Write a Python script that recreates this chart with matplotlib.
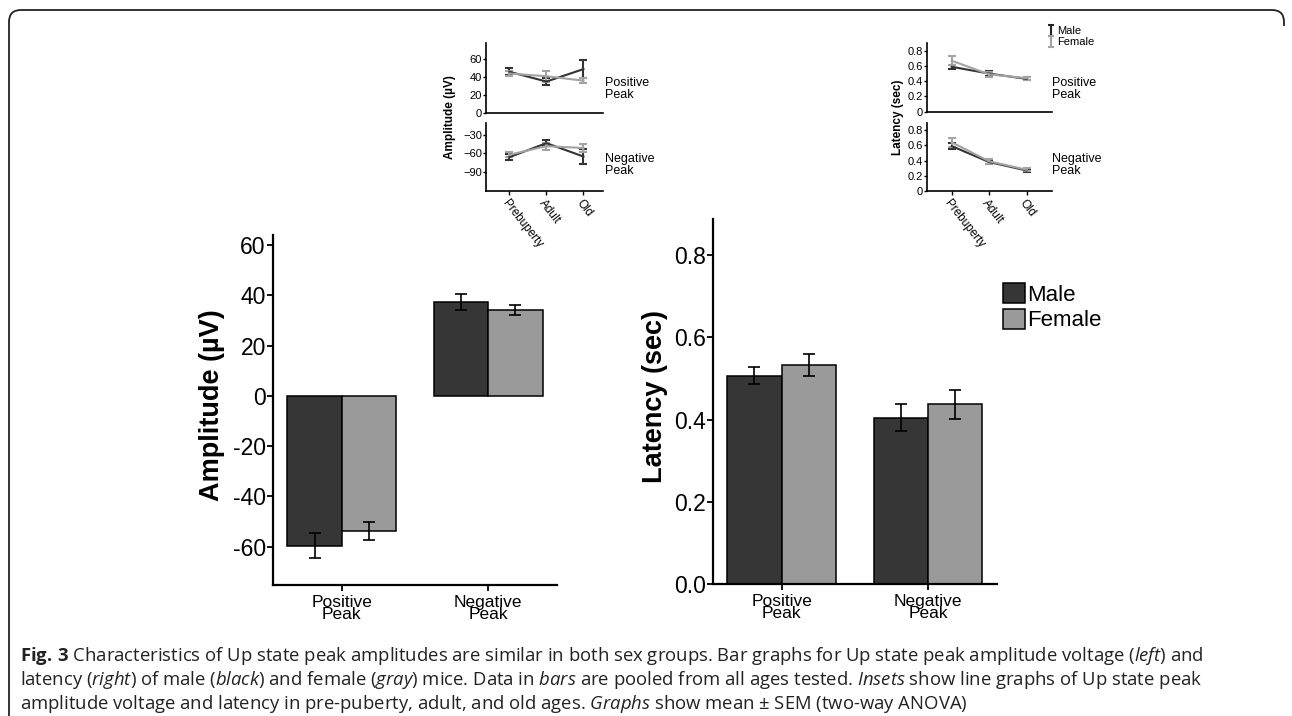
import numpy as np
import matplotlib
matplotlib.use("Agg")
import matplotlib.pyplot as plt
from matplotlib.path import Path
from matplotlib.patches import PathPatch, Patch

# --- DATA ---
peaks = ["Positive\nPeak", "Negative\nPeak"]
ages = ["Prebuperty", "Adult", "Old"]

# pooled bars: mean and SEM
amp_male = [-59.6, 37.4]
amp_male_sem = [4.8, 3.2]
amp_female = [-53.8, 34.2]
amp_female_sem = [3.5, 2.0]

lat_male = [0.507, 0.405]
lat_male_sem = [0.021, 0.033]
lat_female = [0.533, 0.437]
lat_female_sem = [0.026, 0.035]

# insets, by age
amp_pos_male = [46, 35, 49]
amp_pos_male_sem = [4, 4, 10]
amp_pos_female = [44, 41, 36]
amp_pos_female_sem = [3, 6, 2.5]
amp_neg_male = [-66, -43, -65]
amp_neg_male_sem = [5, 5, 12]
amp_neg_female = [-62, -48, -51]
amp_neg_female_sem = [4, 5.5, 7]

lat_pos_male = [0.59, 0.50, 0.43]
lat_pos_male_sem = [0.03, 0.03, 0.02]
lat_pos_female = [0.67, 0.49, 0.44]
lat_pos_female_sem = [0.06, 0.03, 0.02]
lat_neg_male = [0.59, 0.38, 0.27]
lat_neg_male_sem = [0.04, 0.03, 0.02]
lat_neg_female = [0.64, 0.39, 0.28]
lat_neg_female_sem = [0.06, 0.03, 0.02]

# --- STYLE ---
W, H = 1292, 716
MALE = "#363636"
FEMALE = "#9a9a9a"
plt.rcParams["font.family"] = ["Liberation Sans", "DejaVu Sans"]
plt.rcParams["mathtext.fontset"] = "custom"
plt.rcParams["mathtext.rm"] = "Open Sans"
plt.rcParams["mathtext.it"] = "Open Sans:italic"
plt.rcParams["mathtext.bf"] = "Open Sans:bold"

fig = plt.figure(figsize=(W / 100, H / 100), dpi=100)


def px_rect(x0, y0, x1, y1):
    # pixel box (top-left origin) -> figure fraction rect
    return [x0 / W, 1 - y1 / H, (x1 - x0) / W, (y1 - y0) / H]


def bar_panel(box, male, msem, female, fsem, ylim, yticks, yfmt, ylabel, lab_x):
    ax = fig.add_axes(px_rect(*box))
    x = np.arange(len(peaks))
    w = 0.37
    ekw = dict(elinewidth=1.2, capthick=1.2, ecolor="black")
    ax.bar(x - w / 2, male, w, yerr=msem, color=MALE, edgecolor="black",
           linewidth=1.1, capsize=4.6, error_kw=ekw)
    ax.bar(x + w / 2, female, w, yerr=fsem, color=FEMALE, edgecolor="black",
           linewidth=1.1, capsize=4.6, error_kw=ekw)
    ax.set_xlim(-0.47, 1.468)
    ax.set_ylim(*ylim)
    ax.set_yticks(yticks)
    ax.set_yticklabels([yfmt.format(v) for v in yticks])
    ax.set_xticks(x)
    ax.set_xticklabels(peaks, fontsize=12.5, linespacing=0.78)
    for s in ["top", "right"]:
        ax.spines[s].set_visible(False)
    for s in ["left", "bottom"]:
        ax.spines[s].set_linewidth(1.6)
    ax.tick_params(axis="y", labelsize=16.5, length=4, width=1.3, pad=1)
    ax.tick_params(axis="x", length=4, width=1.3, pad=3)
    ax.set_ylabel(ylabel, fontsize=19.5, fontweight="bold")
    ax.yaxis.set_label_coords(lab_x, 0.515)
    return ax


def inset_panel(box, xlim, male, msem, female, fsem, ylim, yticks, show_x):
    ax = fig.add_axes(px_rect(*box))
    x = np.arange(len(ages))
    ax.errorbar(x, male, yerr=msem, color="#333333", lw=1.5, capsize=2.8, capthick=1.5)
    ax.errorbar(x, female, yerr=fsem, color="#a3a3a3", lw=1.5, capsize=2.8, capthick=1.5)
    ax.set_xlim(*xlim)
    ax.set_ylim(*ylim)
    ax.set_yticks(yticks)
    for s in ["top", "right"]:
        ax.spines[s].set_visible(False)
    for s in ["left", "bottom"]:
        ax.spines[s].set_linewidth(1.2)
    ax.tick_params(axis="y", labelsize=8, length=2, width=1, pad=0.5)
    ax.set_xticks(x)
    if show_x:
        ax.set_xticklabels(ages, fontsize=8.5, rotation=-52, ha="left", va="top",
                           rotation_mode="anchor")
        ax.tick_params(axis="x", length=3, width=1, pad=2)
    else:
        ax.set_xticklabels([])
        ax.tick_params(axis="x", length=0)
    return ax


# --- main bar graphs ---
bar_panel((272.7, 235, 557, 585), amp_male, amp_male_sem, amp_female, amp_female_sem,
          (-75.3, 64), [-60, -40, -20, 0, 20, 40, 60], "{:d}", "Amplitude (µV)", -0.167)
bar_panel((712.7, 219.3, 996.7, 584.3), lat_male, lat_male_sem, lat_female, lat_female_sem,
          (0, 0.887), [0.0, 0.2, 0.4, 0.6, 0.8], "{:.1f}", "Latency (sec)", -0.158)

fig.legend(handles=[Patch(facecolor=MALE, edgecolor="black", linewidth=1.1, label="Male"),
                    Patch(facecolor=FEMALE, edgecolor="black", linewidth=1.1, label="Female")],
           loc="upper left", bbox_to_anchor=(1003 / W, 1 - 283 / H), frameon=False,
           fontsize=16, handlelength=1.0, handleheight=1.0, handletextpad=0.1,
           labelspacing=0.15, borderpad=0, borderaxespad=0)

# --- insets ---
inset_panel((485.7, 43.3, 602.7, 112.7), (-0.64, 2.52), amp_pos_male, amp_pos_male_sem,
            amp_pos_female, amp_pos_female_sem, (0, 78), [0, 20, 40, 60], False)
inset_panel((485.7, 123.3, 602.7, 191), (-0.64, 2.52), amp_neg_male, amp_neg_male_sem,
            amp_neg_female, amp_neg_female_sem, (-121.5, -10.5), [-90, -60, -30], True)
ax_rt = inset_panel((926.7, 43.3, 1051.7, 111.5), (-0.67, 2.67), lat_pos_male, lat_pos_male_sem,
                    lat_pos_female, lat_pos_female_sem, (0, 0.9), [0, 0.2, 0.4, 0.6, 0.8], False)
ax_rb = inset_panel((926.7, 123.3, 1051.7, 191), (-0.67, 2.67), lat_neg_male, lat_neg_male_sem,
                    lat_neg_female, lat_neg_female_sem, (0, 0.89), [0, 0.2, 0.4, 0.6, 0.8], True)
for a in (ax_rt, ax_rb):
    a.set_yticklabels(["0", "0.2", "0.4", "0.6", "0.8"])

fig.text(450 / W, 1 - 117 / H, "Amplitude (µV)", rotation=90, fontsize=8.5,
         fontweight="bold", ha="center", va="center")
fig.text(898 / W, 1 - 117 / H, "Latency (sec)", rotation=90, fontsize=8.5,
         fontweight="bold", ha="center", va="center")
for xp in (605, 1052):
    fig.text(xp / W, 1 - 89 / H, "Positive\nPeak", fontsize=9, ha="left", va="center",
             linespacing=1.0)
    fig.text(xp / W, 1 - 165 / H, "Negative\nPeak", fontsize=9, ha="left", va="center",
             linespacing=1.0)

# small legend of the insets
eb_m = ax_rt.errorbar([np.nan], [np.nan], yerr=[1], fmt="none", ecolor="#222222",
                      elinewidth=1.5, capsize=2, capthick=1.5, label="Male")
eb_f = ax_rt.errorbar([np.nan], [np.nan], yerr=[1], fmt="none", ecolor="#a3a3a3",
                      elinewidth=1.5, capsize=2, capthick=1.5, label="Female")
fig.legend(handles=[eb_m, eb_f], loc="upper left", bbox_to_anchor=(1048 / W, 1 - 26 / H),
           frameon=False, fontsize=8, handlelength=0.5, handletextpad=0.3,
           labelspacing=0.1, borderpad=0, borderaxespad=0, numpoints=1)

# --- frame around the figure ---
pts = [(9, 716), (9, 22), (9, 10), (21, 10), (1272, 10), (1284, 10), (1284, 22), (1284, 26)]
codes = [Path.MOVETO, Path.LINETO, Path.CURVE3, Path.CURVE3, Path.LINETO,
         Path.CURVE3, Path.CURVE3, Path.LINETO]
frame = Path([(px / W, 1 - py / H) for px, py in pts], codes)
fig.add_artist(PathPatch(frame, facecolor="none", edgecolor="#222222", lw=1.3,
                         transform=fig.transFigure))

# --- caption ---
cap_lines = [
    r"$\mathbf{Fig.3}$ Characteristics of Up state peak amplitudes are similar in both sex groups. "
    r"Bar graphs for Up state peak amplitude voltage ($\mathit{left}$) and",
    r"latency ($\mathit{right}$) of male ($\mathit{black}$) and female ($\mathit{gray}$) mice. "
    r"Data in $\mathit{bars}$ are pooled from all ages tested. $\mathit{Insets}$ show line graphs of Up state peak",
    r"amplitude voltage and latency in pre-puberty, adult, and old ages. $\mathit{Graphs}$ "
    r"show mean ± SEM (two-way ANOVA)",
]
cap_lines[0] = cap_lines[0].replace(r"$\mathbf{Fig.3}$", r"$\mathbf{Fig.\,3}$")
for i, line in enumerate(cap_lines):
    fig.text(20 / W, 1 - (661 + 24 * i) / H, line, fontsize=13.3, family="Open Sans",
             color="#222222", ha="left", va="baseline")

fig.savefig("out.png", dpi=100)
